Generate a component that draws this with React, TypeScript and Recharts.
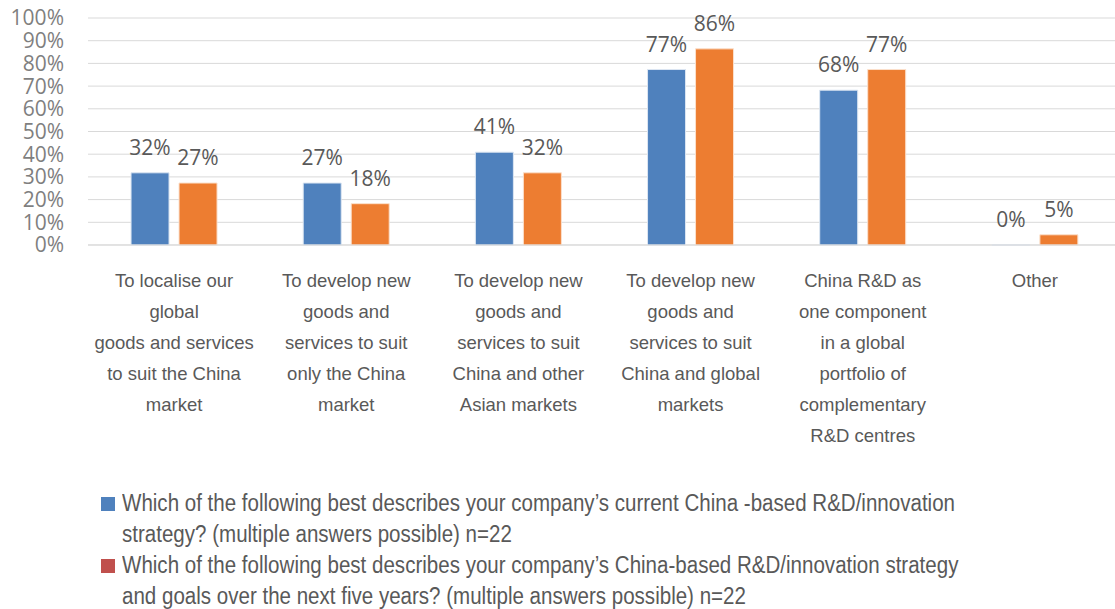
import React from "react";
import { BarChart, Bar, XAxis, YAxis, CartesianGrid, LabelList } from "recharts";

const categories = [
  "To localise our\nglobal\ngoods and services\nto suit the China\nmarket",
  "To develop new\ngoods and\nservices to suit\nonly the China\nmarket",
  "To develop new\ngoods and\nservices to suit\nChina and other\nAsian markets",
  "To develop new\ngoods and\nservices to suit\nChina and global\nmarkets",
  "China R&D as\none component\nin a global\nportfolio of\ncomplementary\nR&D centres",
  "Other",
];
const currentValues = [31.8, 27.3, 40.9, 77.3, 68.2, 0];
const futureValues = [27.3, 18.2, 31.8, 86.4, 77.3, 4.5];
const yTicks = [0, 10, 20, 30, 40, 50, 60, 70, 80, 90, 100];
const legendItems = [
  {
    color: "#4F81BD",
    lines: [
      "Which of the following best describes your company\u2019s current China -based R&D/innovation",
      "strategy? (multiple answers possible) n=22",
    ],
  },
  {
    color: "#C0504D",
    lines: [
      "Which of the following best describes your company\u2019s China-based R&D/innovation strategy",
      "and goals over the next five years? (multiple answers possible) n=22",
    ],
  },
];

const data = categories.map((c, i) => ({
  name: c,
  current: currentValues[i],
  future: futureValues[i],
}));

const CategoryTick = (props: any) => {
  const { x, y, payload } = props;
  const lines = String(payload.value).split("\n");
  return (
    <text
      x={x}
      y={y}
      textAnchor="middle"
      fill="#595959"
      style={{ fontFamily: "'Liberation Sans', Arial, sans-serif", fontSize: 18.5 }}
    >
      {lines.map((l, i) => (
        <tspan key={i} x={x} dy={i === 0 ? 42 : 31}>
          {l}
        </tspan>
      ))}
    </text>
  );
};

const ChartLegend = () => (
  <div
    style={{
      position: "absolute",
      left: 101,
      top: 488,
      fontFamily: "'Liberation Sans', Arial, sans-serif",
      fontSize: 23,
      color: "#595959",
      lineHeight: "31px",
    }}
  >
    {legendItems.map((it, i) => (
      <div key={i} style={{ position: "relative", paddingLeft: 21, height: 62 }}>
        <span
          style={{
            position: "absolute",
            left: 0,
            top: 9,
            width: 14,
            height: 14,
            background: it.color,
          }}
        />
        {it.lines.map((l, j) => (
          <div
            key={j}
            style={{ whiteSpace: "nowrap", transform: "scaleX(0.893)", transformOrigin: "0 0" }}
          >
            {l}
          </div>
        ))}
      </div>
    ))}
  </div>
);

const labelFmt = (v: any) => `${Math.round(Number(v))}%`;
const labelStyle = { fontFamily: "'Open Sans', 'Noto Sans', sans-serif", fontSize: 21, fill: "#595959" };

export default function App() {
  return (
    <div style={{ position: "absolute", left: 0, top: 0, width: 1115, height: 609, overflow: "hidden", background: "#fff" }}>
      <BarChart
        width={1121}
        height={609}
        data={data}
        margin={{ top: 18, right: 0, left: 0, bottom: 164 }}
        barCategoryGap="25%"
        barGap={10}
      >
        <CartesianGrid vertical={false} stroke="#d9d9d9" />
        <XAxis
          dataKey="name"
          height={200}
          axisLine={{ stroke: "#d9d9d9" }}
          tickLine={false}
          tickSize={0}
          tickMargin={0}
          interval={0}
          tick={<CategoryTick />}
        />
        <YAxis
          width={88}
          domain={[0, 100]}
          ticks={yTicks}
          tickFormatter={(v) => `${v}%`}
          axisLine={false}
          tickLine={false}
          tickSize={0}
          tickMargin={24}
          tick={{ fill: "#7f7f7f", fontSize: 21, fontFamily: "'Open Sans', 'Noto Sans', sans-serif" }}
          interval={0}
        />
        <Bar dataKey="current" fill="#4F81BD" stroke="#dce6f2" strokeWidth={1} minPointSize={0.01} isAnimationActive={false}>
          <LabelList dataKey="current" position="top" offset={18} formatter={labelFmt} style={labelStyle} />
        </Bar>
        <Bar dataKey="future" fill="#ED7D31" stroke="#fbe0cc" strokeWidth={1} minPointSize={0.01} isAnimationActive={false}>
          <LabelList dataKey="future" position="top" offset={18} formatter={labelFmt} style={labelStyle} />
        </Bar>
      </BarChart>
      <ChartLegend />
    </div>
  );
}
